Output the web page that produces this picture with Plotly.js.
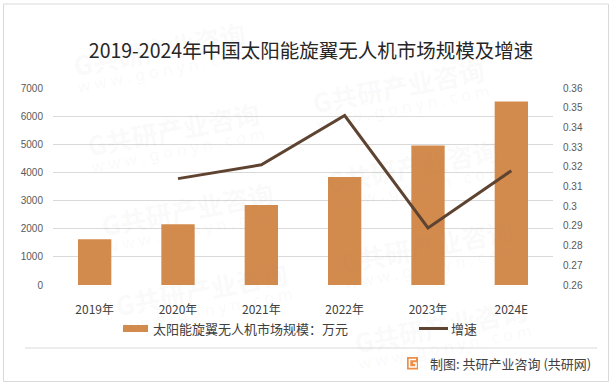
<!DOCTYPE html>
<html>
<head>
<meta charset="utf-8">
<script src="https://cdn.plot.ly/plotly-3.0.1.min.js"></script>
<style>
html,body{margin:0;padding:0;background:#fff;}
#chart{width:614px;height:386px;}
</style>
</head>
<body>
<div id="chart"></div>
<script>
// ---- data ----
const categories = ['2019年','2020年','2021年','2022年','2023年','2024E'];
const marketSize = [1630, 2160, 2840, 3840, 4960, 6520];   // 万元
const growthRate = [null, 0.314, 0.321, 0.346, 0.289, 0.318];
const seriesNames = ['太阳能旋翼无人机市场规模：万元', '增速'];
const chartTitle = '2019-2024年中国太阳能旋翼无人机市场规模及增速';
const sourceText = '制图: 共研产业咨询 (共研网)';
const watermarkText = '<b>G共研产业咨询</b>';
const watermarkUrl = 'w w w . g o n y n . c o m';

// ---- layout helpers (pixel -> paper) ----
const L = 53, R = 553, T = 88, B = 285;
const PX = x => (x - L) / (R - L);
const PY = y => (B - y) / (B - T);

const barColor = '#D38B4D';
const lineColor = '#5E4330';
const cjk = '"Noto Sans CJK SC", "Noto Sans", sans-serif';
const num = '"Liberation Sans", Arial, sans-serif';

const traces = [
  {
    type: 'bar', name: seriesNames[0], x: categories, y: marketSize,
    marker: {color: barColor}, showlegend: false, hoverinfo: 'skip'
  },
  {
    type: 'scatter', mode: 'lines', name: seriesNames[1], x: categories, y: growthRate,
    yaxis: 'y2', line: {color: lineColor, width: 3}, showlegend: false,
    hoverinfo: 'skip', connectgaps: false
  }
];

// faint tiled watermark (decoration), only whole copies inside the picture
const wmAnn = [];
const wmColor = 'rgba(120,120,120,0.055)';
for (let i = 0; i <= 1; i++) {
  for (let j = -1; j <= 3; j++) {
    const cx = 173 + 225 * i + 14 * j;
    const cy = 128 - 43 * i + 80 * j;
    if (cy < 40 || cy > 340) continue;
    wmAnn.push({text: watermarkText, xref: 'paper', yref: 'paper', x: PX(cx), y: PY(cy),
      xanchor: 'center', yanchor: 'middle', showarrow: false, textangle: -11,
      font: {family: cjk, size: 26, color: wmColor}});
    wmAnn.push({text: watermarkUrl, xref: 'paper', yref: 'paper', x: PX(cx + 5), y: PY(cy + 22),
      xanchor: 'center', yanchor: 'middle', showarrow: false, textangle: -11,
      font: {family: '"Noto Sans", sans-serif', size: 16, color: wmColor}});
  }
}

const layout = {
  width: 614, height: 386,
  margin: {l: L, r: 614 - R, t: T, b: 386 - B, pad: 0},
  paper_bgcolor: '#fff', plot_bgcolor: '#fff',
  bargap: 0.6,
  showlegend: false,
  title: {
    text: chartTitle, x: 311 / 614, xanchor: 'center', xref: 'container',
    y: 1 - 51 / 386, yanchor: 'middle', yref: 'container',
    font: {family: cjk, size: 19.5, color: '#262626'}
  },
  xaxis: {
    type: 'category', showgrid: false, zeroline: false, showline: false,
    ticks: '', ticklabelstandoff: 16,
    tickfont: {family: cjk, size: 12, color: '#404040'}
  },
  yaxis: {
    range: [0, 7000], dtick: 1000, tick0: 0,
    showgrid: true, gridcolor: '#d9d9d9', gridwidth: 1,
    zeroline: false, showline: false, ticks: '', ticklabelstandoff: 9,
    tickfont: {family: num, size: 10, color: '#595959'}
  },
  yaxis2: {
    overlaying: 'y', side: 'right', range: [0.26, 0.36], dtick: 0.01, tick0: 0.26,
    showgrid: false, zeroline: false, showline: false, ticks: '', ticklabelstandoff: 9,
    tickfont: {family: num, size: 10, color: '#595959'}
  },
  shapes: [
    // outer border
    {type: 'rect', xref: 'paper', yref: 'paper', x0: PX(3.5), x1: PX(608.5), y0: PY(4), y1: PY(381.5),
     line: {color: '#d9d9d9', width: 1}, fillcolor: 'rgba(0,0,0,0)', layer: 'below'},
    // legend swatches
    {type: 'rect', xref: 'paper', yref: 'paper', x0: PX(123), x1: PX(148), y0: PY(332), y1: PY(325),
     line: {width: 0}, fillcolor: barColor},
    {type: 'line', xref: 'paper', yref: 'paper', x0: PX(419), x1: PX(448), y0: PY(328.5), y1: PY(328.5),
     line: {color: lineColor, width: 3}},
    // separator
    {type: 'line', xref: 'paper', yref: 'paper', x0: PX(25), x1: PX(597), y0: PY(348), y1: PY(348),
     line: {color: '#d9d9d9', width: 1}},
    // footer logo
    {type: 'rect', xref: 'paper', yref: 'paper', x0: PX(407), x1: PX(418), y0: PY(369.5), y1: PY(357),
     line: {width: 0}, fillcolor: '#EF8C45'},
    {type: 'path', xref: 'paper', yref: 'paper',
     path: `M ${PX(416)} ${PY(359.5)} L ${PX(409.5)} ${PY(359.5)} L ${PX(409.5)} ${PY(367)} L ${PX(416)} ${PY(367)} L ${PX(416)} ${PY(363)} L ${PX(413)} ${PY(363)}`,
     line: {color: '#ffffff', width: 1.6}}
  ],
  annotations: wmAnn.concat([
    {text: seriesNames[0], xref: 'paper', yref: 'paper', x: PX(151), y: PY(328.5),
     xanchor: 'left', yanchor: 'middle', showarrow: false,
     font: {family: cjk, size: 13, color: '#404040'}},
    {text: seriesNames[1], xref: 'paper', yref: 'paper', x: PX(449), y: PY(328.5),
     xanchor: 'left', yanchor: 'middle', showarrow: false,
     font: {family: cjk, size: 13, color: '#404040'}},
    {text: sourceText, xref: 'paper', yref: 'paper', x: PX(428), y: PY(363),
     xanchor: 'left', yanchor: 'middle', showarrow: false,
     font: {family: cjk, size: 13, color: '#404040'}}
  ])
};

Plotly.newPlot('chart', traces, layout, {staticPlot: true, displayModeBar: false});
</script>
</body>
</html>
